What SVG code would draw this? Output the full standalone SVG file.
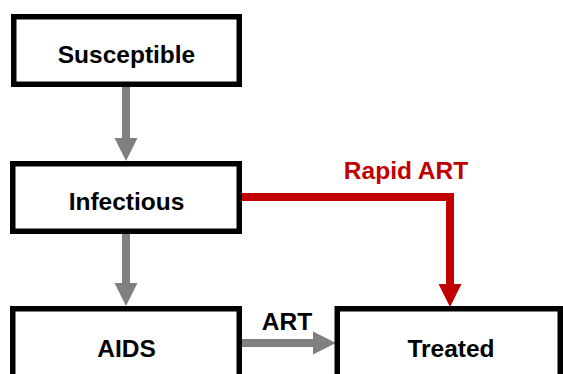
<svg xmlns="http://www.w3.org/2000/svg" width="563" height="374" viewBox="0 0 563 374">
<style>
.box{fill:#fff;stroke:#000;stroke-width:5.5}
.t{font-family:"Liberation Sans",Arial,sans-serif;font-weight:bold;font-size:24.5px;text-anchor:middle;fill:#000}
.red{fill:#C00000}
.g{stroke:#808080;stroke-width:8;fill:none}
.r{stroke:#C00000;stroke-width:8;fill:none}
</style>
<rect width="563" height="374" fill="#fff"/>
<g id="connectors">
<line class="g" x1="126" y1="87" x2="126" y2="139"/>
<polygon points="114.5,138 137.5,138 126,161" fill="#808080"/>
<line class="g" x1="126" y1="234" x2="126" y2="284"/>
<polygon points="114.5,283 137.5,283 126,306" fill="#808080"/>
<polyline class="r" points="242,197 450,197 450,285"/>
<polygon points="438.5,284 461.5,284 450,307" fill="#C00000"/>
<line class="g" x1="242" y1="343" x2="314" y2="343"/>
<polygon points="313,331.5 313,354.5 336,343" fill="#808080"/>
<text class="t red" x="406" y="179">Rapid ART</text>
<text class="t" x="287" y="330">ART</text>
</g>
<g id="susceptible">
<rect class="box" x="13.75" y="16.75" width="225.5" height="67.5"/>
<text class="t" x="126.5" y="63">Susceptible</text>
</g>
<g id="infectious">
<rect class="box" x="12.75" y="163.75" width="226.5" height="67.5"/>
<text class="t" x="126.5" y="210">Infectious</text>
</g>
<g id="aids">
<rect class="box" x="12.75" y="308.75" width="226.5" height="100"/>
<text class="t" x="126.5" y="357">AIDS</text>
</g>
<g id="treated">
<rect class="box" x="337.25" y="308.75" width="223" height="100"/>
<text class="t" x="451" y="357">Treated</text>
</g>
</svg>
